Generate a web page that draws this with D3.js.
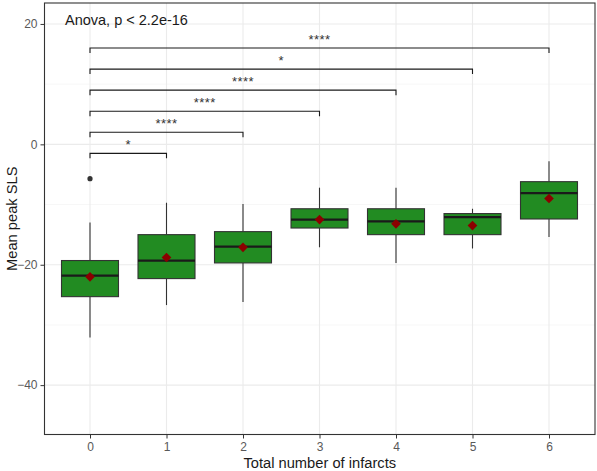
<!DOCTYPE html>
<html>
<head>
<meta charset="utf-8">
<script src="https://cdn.jsdelivr.net/npm/d3@7"></script>
<style>
  html, body { margin: 0; padding: 0; background: #fff; }
  svg { display: block; font-family: "Liberation Sans", Arial, sans-serif; }
</style>
</head>
<body>
<div id="chart"></div>
<script>
// data
const groups = ['0', '1', '2', '3', '4', '5', '6']
const whiskerHigh = [-13.0, -9.7, -9.9, -7.2, -7.2, -10.7, -2.8]
const q3 = [-19.3, -15.0, -14.5, -10.7, -10.7, -11.5, -6.2]
const medians = [-21.8, -19.3, -17.0, -12.5, -12.8, -12.1, -8.1]
const q1 = [-25.3, -22.3, -19.7, -13.9, -15.0, -15.0, -12.4]
const whiskerLow = [-32.1, -26.7, -26.2, -17.1, -19.7, -17.3, -15.4]
const means = [-22.0, -18.8, -17.1, -12.5, -13.2, -13.5, -9.0]
const outliers = [{ group: '0', value: -5.7 }]

// pairwise comparisons against group 0
const compareTo = ['1', '2', '3', '4', '5', '6']
const bracketY = [-1.5, 2.0, 5.5, 9.0, 12.5, 16.0]
const signif = ['*', '****', '****', '****', '*', '****']

const yTicks = [-40, -20, 0, 20]
const yMinor = [-30, -10, 10]
const anovaLabel = 'Anova, p < 2.2e-16'

const W = 597
const H = 471
const panel = { left: 44.5, top: 3, right: 595, bottom: 434.5 }

const svg = d3.select('#chart').append('svg')
  .attr('width', W)
  .attr('height', H)

const x = d3.scalePoint()
  .domain(groups)
  .range([90, 549])

const y = d3.scaleLinear()
  .domain([-48.2, 23.48])
  .range([panel.bottom, panel.top])

const boxW = 57
const rows = groups.map((g, i) => ({
  g, hi: whiskerHigh[i], q3: q3[i], med: medians[i], q1: q1[i], lo: whiskerLow[i], mean: means[i],
}))

// grid
const grid = svg.append('g')
grid.selectAll('line.minor')
  .data(yMinor)
  .join('line')
  .attr('x1', panel.left).attr('x2', panel.right)
  .attr('y1', (d) => y(d)).attr('y2', (d) => y(d))
  .attr('stroke', '#f2f2f2').attr('stroke-width', 0.6)
grid.selectAll('line.major')
  .data(yTicks)
  .join('line')
  .attr('x1', panel.left).attr('x2', panel.right)
  .attr('y1', (d) => y(d)).attr('y2', (d) => y(d))
  .attr('stroke', '#ebebeb').attr('stroke-width', 1.1)
grid.append('g').selectAll('line')
  .data(groups)
  .join('line')
  .attr('x1', (d) => x(d)).attr('x2', (d) => x(d))
  .attr('y1', panel.top).attr('y2', panel.bottom)
  .attr('stroke', '#ebebeb').attr('stroke-width', 1.1)

// boxes
const box = svg.append('g').selectAll('g')
  .data(rows)
  .join('g')

box.append('line')
  .attr('x1', (d) => x(d.g)).attr('x2', (d) => x(d.g))
  .attr('y1', (d) => y(d.hi)).attr('y2', (d) => y(d.q3))
  .attr('stroke', '#333').attr('stroke-width', 1.1)
box.append('line')
  .attr('x1', (d) => x(d.g)).attr('x2', (d) => x(d.g))
  .attr('y1', (d) => y(d.q1)).attr('y2', (d) => y(d.lo))
  .attr('stroke', '#333').attr('stroke-width', 1.1)
box.append('rect')
  .attr('x', (d) => x(d.g) - boxW / 2)
  .attr('width', boxW)
  .attr('y', (d) => y(d.q3))
  .attr('height', (d) => y(d.q1) - y(d.q3))
  .attr('fill', '#228b22')
  .attr('stroke', '#333').attr('stroke-width', 1.1)
box.append('line')
  .attr('x1', (d) => x(d.g) - boxW / 2).attr('x2', (d) => x(d.g) + boxW / 2)
  .attr('y1', (d) => y(d.med)).attr('y2', (d) => y(d.med))
  .attr('stroke', '#1a1a1a').attr('stroke-width', 2.2)

svg.append('g').selectAll('circle')
  .data(outliers)
  .join('circle')
  .attr('cx', (d) => x(d.group))
  .attr('cy', (d) => y(d.value))
  .attr('r', 2.6)
  .attr('fill', '#333')

// mean diamonds
svg.append('g').selectAll('path')
  .data(rows)
  .join('path')
  .attr('transform', (d) => `translate(${x(d.g)},${y(d.mean)})`)
  .attr('d', d3.symbol(d3.symbolDiamond2, 60))
  .attr('fill', '#8b0000')

// significance brackets
const br = svg.append('g').selectAll('g')
  .data(compareTo.map((g, i) => ({ g, yv: bracketY[i], label: signif[i] })))
  .join('g')
br.append('path')
  .attr('d', (d) => {
    const x0 = x('0'), x1 = x(d.g), yy = y(d.yv)
    return `M${x0},${yy + 5}V${yy}H${x1}V${yy + 5}`
  })
  .attr('fill', 'none')
  .attr('stroke', '#1a1a1a').attr('stroke-width', 1.1)
br.append('text')
  .attr('x', (d) => (x('0') + x(d.g)) / 2)
  .attr('y', (d) => y(d.yv) - 4)
  .attr('text-anchor', 'middle')
  .attr('font-size', 13)
  .attr('letter-spacing', 0.5)
  .attr('fill', '#333')
  .text((d) => d.label)

// panel border
svg.append('rect')
  .attr('x', panel.left).attr('y', panel.top)
  .attr('width', panel.right - panel.left)
  .attr('height', panel.bottom - panel.top)
  .attr('fill', 'none')
  .attr('stroke', '#333').attr('stroke-width', 1.1)

// axes
const yAxis = svg.append('g')
  .attr('transform', `translate(${panel.left},0)`)
  .call(d3.axisLeft(y).tickValues(yTicks).tickSize(4).tickPadding(3))
yAxis.select('.domain').remove()
yAxis.selectAll('line').attr('stroke', '#333')
yAxis.selectAll('text').attr('fill', '#595959').attr('font-size', 12)
  .attr('font-family', '"Liberation Sans", Arial, sans-serif')

const xAxis = svg.append('g')
  .attr('transform', `translate(0,${panel.bottom})`)
  .call(d3.axisBottom(x).tickSize(4).tickPadding(4))
xAxis.select('.domain').remove()
xAxis.selectAll('line').attr('stroke', '#333')
xAxis.selectAll('text').attr('fill', '#595959').attr('font-size', 12)
  .attr('font-family', '"Liberation Sans", Arial, sans-serif')

svg.append('text')
  .attr('x', (panel.left + panel.right) / 2)
  .attr('y', 468)
  .attr('text-anchor', 'middle')
  .attr('font-size', 14.7)
  .attr('fill', '#1a1a1a')
  .text('Total number of infarcts')

svg.append('text')
  .attr('transform', `translate(17,${(panel.top + panel.bottom) / 2}) rotate(-90)`)
  .attr('text-anchor', 'middle')
  .attr('font-size', 14.7)
  .attr('fill', '#1a1a1a')
  .text('Mean peak SLS')

svg.append('text')
  .attr('x', 65)
  .attr('y', 25)
  .attr('font-size', 14.5)
  .attr('fill', '#1a1a1a')
  .text(anovaLabel)
</script>
</body>
</html>
